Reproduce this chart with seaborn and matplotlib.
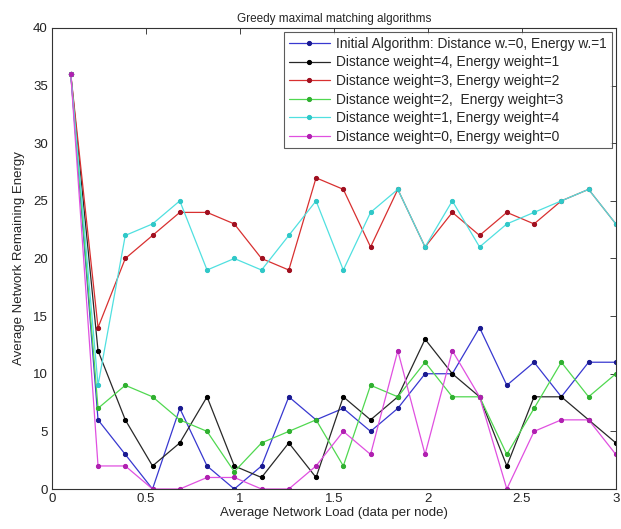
import numpy as np
import pandas as pd
import matplotlib
matplotlib.use("Agg")
import matplotlib.pyplot as plt
import seaborn as sns

# Network load values (data per node)
load = [0.1, 0.245, 0.39, 0.535, 0.68, 0.825, 0.97, 1.115, 1.26, 1.405, 1.55,
        1.695, 1.84, 1.985, 2.13, 2.275, 2.42, 2.565, 2.71, 2.855, 3.0]

initial = [36, 6, 3, 0, 7, 2, 0, 2, 8, 6, 7, 5, 7, 10, 10, 14, 9, 11, 8, 11, 11]
dist4_en1 = [36, 12, 6, 2, 4, 8, 2, 1, 4, 1, 8, 6, 8, 13, 10, 8, 2, 8, 8, 6, 4]
dist3_en2 = [36, 14, 20, 22, 24, 24, 23, 20, 19, 27, 26, 21, 26, 21, 24, 22, 24, 23, 25, 26, 23]
dist2_en3 = [36, 7, 9, 8, 6, 5, 1.5, 4, 5, 6, 2, 9, 8, 11, 8, 8, 3, 7, 11, 8, 10]
dist1_en4 = [36, 9, 22, 23, 25, 19, 20, 19, 22, 25, 19, 24, 26, 21, 25, 21, 23, 24, 25, 26, 23]
dist0_en0 = [36, 2, 2, 0, 0, 1, 1, 0, 0, 2, 5, 3, 12, 3, 12, 8, 0, 5, 6, 6, 3]

labels = [
    "Initial Algorithm: Distance w.=0, Energy w.=1",
    "Distance weight=4, Energy weight=1",
    "Distance weight=3, Energy weight=2",
    "Distance weight=2,  Energy weight=3",
    "Distance weight=1, Energy weight=4",
    "Distance weight=0, Energy weight=0",
]
series = [initial, dist4_en1, dist3_en2, dist2_en3, dist1_en4, dist0_en0]
line_colors = ["#3838d0", "#282828", "#d83030", "#50d850", "#50e0e0", "#e050e0"]
dot_colors = ["#1a1a90", "#000000", "#a01020", "#30b030", "#30c8c8", "#b020b0"]

sns.set_style("white")
plt.rcParams["font.family"] = ["Liberation Sans", "DejaVu Sans"]

fig = plt.figure(figsize=(6.21, 5.29), dpi=100)
ax = fig.add_axes([0.0837, 0.0756, 0.908, 0.8715])

for vals, lab, lc, dc in zip(series, labels, line_colors, dot_colors):
    df = pd.DataFrame({"load": load, "energy": vals})
    sns.lineplot(data=df, x="load", y="energy", ax=ax, color=lc, linewidth=0.9,
                 marker="o", markersize=3.0, markerfacecolor=dc,
                 markeredgecolor=dc, label=lab)

ax.set_xlim(0, 3)
ax.set_ylim(0, 40)
ax.set_xticks([0, 0.5, 1, 1.5, 2, 2.5, 3])
ax.set_xticklabels(["0", "0.5", "1", "1.5", "2", "2.5", "3"])
ax.set_yticks(range(0, 41, 5))
ax.tick_params(direction="in", top=True, right=True, length=4, width=0.6,
               labelsize=9.5, colors="#222222", pad=3)
for s in ax.spines.values():
    s.set_color("#333333")
    s.set_linewidth(0.8)

ax.set_xlabel("Average Network Load (data per node)", fontsize=9.5, labelpad=1)
ax.set_ylabel("Average Network Remaining Energy", fontsize=9.5, labelpad=6)
ax.set_title("Greedy maximal matching algorithms", fontsize=8.5, pad=4)

leg = ax.legend(loc="upper right", fontsize=9.9, frameon=True, fancybox=False,
                handlelength=3.0, handletextpad=0.45, borderpad=0.35,
                labelspacing=0.33, borderaxespad=0.3)
leg.get_frame().set_edgecolor("#333333")
leg.get_frame().set_linewidth(0.8)

fig.savefig("out.png", dpi=100)
